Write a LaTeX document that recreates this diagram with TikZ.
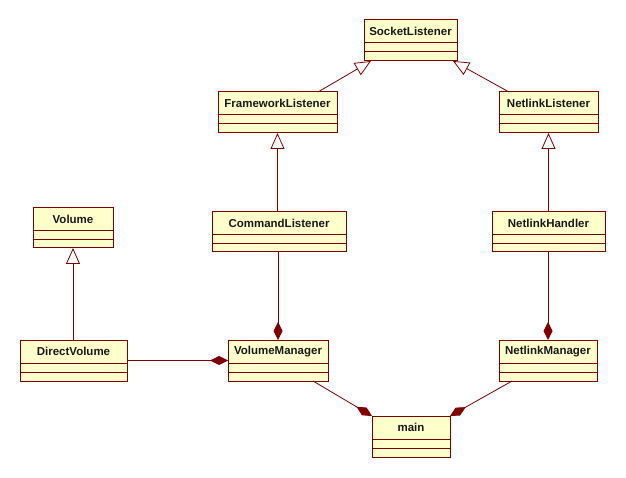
\documentclass[tikz,border=0pt]{standalone}
\usepackage{fontspec}
\setmainfont{Liberation Sans}
\usetikzlibrary{arrows.meta,calc}
\definecolor{umlline}{HTML}{800000}
\definecolor{umlfill}{HTML}{FFFFCC}
\tikzset{
  cls/.style={draw=umlline, fill=umlfill, line width=1pt, inner sep=0pt, outer sep=0pt},
  clstext/.style={font=\bfseries\fontsize{11.5}{13}\selectfont, text=black!90, inner sep=0pt},
  divider/.style={draw=umlline, line width=1pt},
  conn/.style={draw=umlline, line width=0.8pt},
  inherit/.style={conn, -{Triangle[open, length=16pt, width=14pt, fill=white]}},
  compose/.style={conn, -{Diamond[length=18pt, width=9pt, fill=umlline]}},
}
\newcommand\umlbox[6]{%
  \node[cls, minimum width={(#4-#2)*1pt}, minimum height={(#5-#3)*1pt}] (#1) at ({(#2+#4)/2},{(#3+#5)/2}) {};
  \node[clstext] (#1-label) at ($(#1.north)+(0,11.5)$) {#6};
  \draw[divider] ($(#1.north west)+(0,23)$) -- ($(#1.north east)+(0,23)$);
  \draw[divider] ($(#1.north west)+(0,32)$) -- ($(#1.north east)+(0,32)$);
}
\begin{document}
\begin{tikzpicture}[x=1pt,y=-1pt]
\path[fill=white,use as bounding box] (0,0) rectangle (626,478);
\umlbox{sock}{364}{20}{457}{61}{SocketListener}
\umlbox{fw}{218}{92}{337}{133}{FrameworkListener}
\umlbox{nll}{499}{92}{598}{133}{NetlinkListener}
\umlbox{vol}{33}{208}{113}{248}{Volume}
\umlbox{cmd}{212}{212}{346}{252}{CommandListener}
\umlbox{nlh}{492}{212}{605}{252}{NetlinkHandler}
\umlbox{dv}{20}{340}{127}{381}{DirectVolume}
\umlbox{vm}{228}{340}{328}{381}{VolumeManager}
\umlbox{nlm}{499}{340}{597}{381}{NetlinkManager}
\umlbox{main}{372}{416}{450}{457}{main}
% inheritance
\draw[inherit] ($(fw.north east)+(-19,0)$) -- ($(sock.south west)+(7,0)$);
\draw[inherit] ($(nll.north west)+(10,0)$) -- ($(sock.south east)+(-4,0)$);
\draw[inherit] (cmd.north -| fw.south) -- (fw.south);
\draw[inherit] (nlh.north) -- (nll.south);
\draw[inherit] (dv.north -| vol.south) -- (vol.south);
% composition
\draw[compose] (cmd.south -| vm.north) -- (vm.north);
\draw[compose] (nlh.south -| nlm.north) -- (nlm.north);
\draw[compose] (dv.east) -- (vm.west);
\draw[compose] ($(vm.south east)+(-15,0)$) -- (main.north west);
\draw[compose] ($(nlm.south west)+(13,0)$) -- (main.north east);
\end{tikzpicture}
\end{document}
